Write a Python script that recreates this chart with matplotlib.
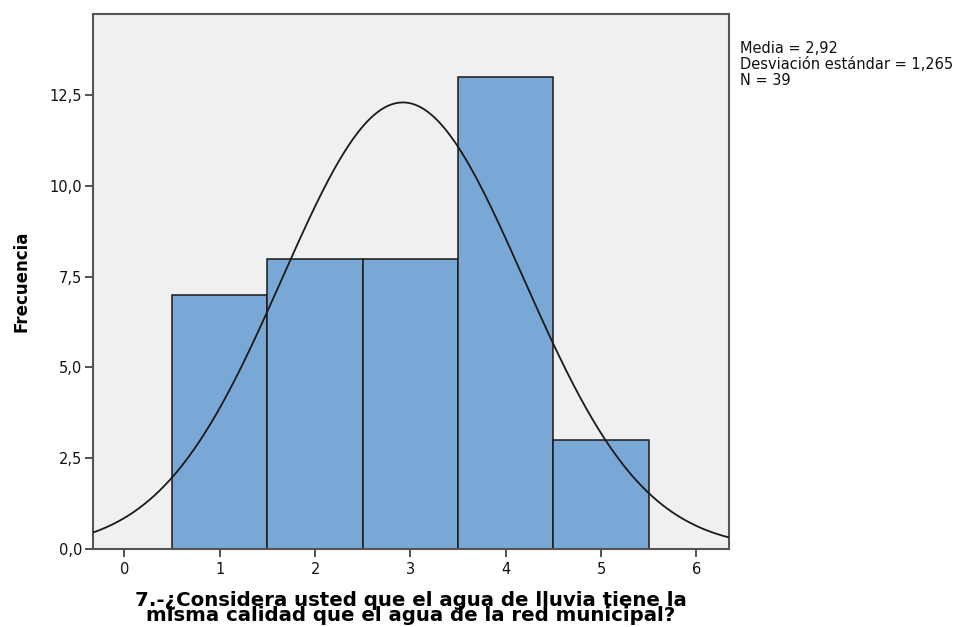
import numpy as np
import matplotlib
matplotlib.use("Agg")
import matplotlib.pyplot as plt
from matplotlib.ticker import FuncFormatter

plt.rcParams['font.family'] = ['DejaVu Sans']

# Response categories and their frequencies
categories = [1, 2, 3, 4, 5]
frequencies = [7, 8, 8, 13, 3]
mean_value = 2.92
std_value = 1.265
n_total = 39

y_ticks = [0.0, 2.5, 5.0, 7.5, 10.0, 12.5]
x_ticks = [0, 1, 2, 3, 4, 5, 6]

fig = plt.figure(figsize=(9.62, 6.27), dpi=100)
ax = fig.add_axes([0.0967, 0.1244, 0.661, 0.853])
ax.set_facecolor('#f0f0f0')

ax.bar(categories, frequencies, width=1.0, color='#79a7d6',
       edgecolor='#1a1a1a', linewidth=1.1, zorder=2)

# Normal curve scaled to counts (bin width = 1)
xs = np.linspace(-0.33, 6.34, 400)
ys = n_total / (std_value * np.sqrt(2 * np.pi)) * np.exp(-0.5 * ((xs - mean_value) / std_value) ** 2)
ax.plot(xs, ys, color='#1a1a1a', linewidth=1.3, zorder=3)

ax.set_xlim(-0.33, 6.34)
ax.set_ylim(0, 14.73)
ax.set_xticks(x_ticks)
ax.set_yticks(y_ticks)
ax.yaxis.set_major_formatter(FuncFormatter(lambda v, p: f"{v:.1f}".replace('.', ',')))
ax.tick_params(axis='both', direction='out', length=6, width=1.2, colors='#333333',
               labelsize=10.5, labelcolor='#111111')
ax.tick_params(axis='x', pad=3)
ax.tick_params(axis='y', pad=2)

for s in ax.spines.values():
    s.set_color('#555555')
    s.set_linewidth(1.5)

ax.set_ylabel('Frecuencia', fontsize=12, fontweight='bold', labelpad=0)
ax.yaxis.set_label_coords(-0.099, 0.5)
ax.set_xlabel('7.-¿Considera usted que el agua de lluvia tiene la\nmisma calidad que el agua de la red municipal?',
              fontsize=14.2, fontweight='bold', linespacing=0.74, va='center')
ax.xaxis.set_label_coords(0.5, -0.111)

fig.text(0.769, 0.935, 'Media = 2,92\nDesviación estándar = 1,265\nN = 39',
         fontsize=10.5, va='top', ha='left', linespacing=1.1, color='#111111')

fig.savefig('out.png', dpi=100)
